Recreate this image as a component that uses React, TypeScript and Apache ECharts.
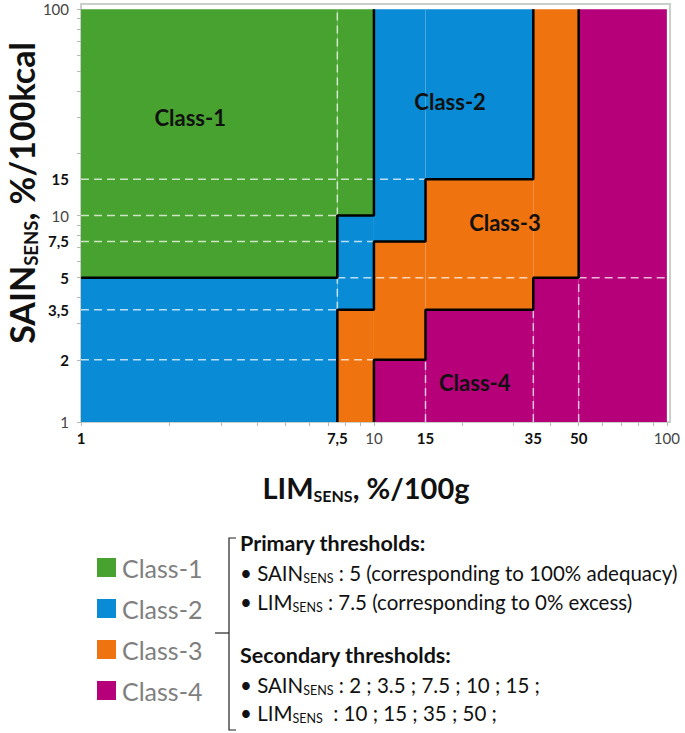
import React, { useEffect, useRef } from "react";
import * as echarts from "echarts";

// ---------- data ----------
const classNames = ["Class-1", "Class-2", "Class-3", "Class-4"];
const classColors = ["#47a22f", "#0a8bd5", "#ef730f", "#b6007a"];

// regions: [xFrom, xTo, yFrom, yTo, classIndex]  (LIM on x, SAIN on y)
const regions: number[][] = [
  [1, 7.5, 5, 100, 0],
  [7.5, 10, 10, 100, 0],
  [1, 7.5, 1, 5, 1],
  [7.5, 10, 3.5, 10, 1],
  [10, 15, 7.5, 100, 1],
  [15, 35, 15, 100, 1],
  [7.5, 10, 1, 3.5, 2],
  [10, 15, 2, 7.5, 2],
  [15, 35, 3.5, 15, 2],
  [35, 50, 5, 100, 2],
  [10, 15, 1, 2, 3],
  [15, 35, 1, 3.5, 3],
  [35, 50, 1, 5, 3],
  [50, 100, 1, 100, 3],
];

// class boundaries (stepped lines)
const boundary12 = [[1, 5], [7.5, 5], [7.5, 10], [10, 10], [10, 100]];
const boundary23 = [[7.5, 1], [7.5, 3.5], [10, 3.5], [10, 7.5], [15, 7.5], [15, 15], [35, 15], [35, 100]];
const boundary34 = [[10, 1], [10, 2], [15, 2], [15, 3.5], [35, 3.5], [35, 5], [50, 5], [50, 100]];

// secondary threshold guide segments: [x0, y0, x1, y1]
const guideSegments: number[][] = [
  [1, 15, 15, 15],
  [1, 10, 7.5, 10],
  [1, 7.5, 10, 7.5],
  [7.5, 5, 35, 5],
  [50, 5, 100, 5],
  [1, 3.5, 7.5, 3.5],
  [1, 2, 10, 2],
  [7.5, 10, 7.5, 100],
  [7.5, 3.5, 7.5, 5],
  [15, 1, 15, 2],
  [35, 1, 35, 3.5],
  [50, 1, 50, 5],
];

// class label anchor points [x, y]
const classLabelPos = [[2.36, 30], [18.2, 35.7], [28, 9.25], [22.1, 1.55]];

const xTickLabels = [1, 7.5, 10, 15, 35, 50, 100];
const xBoldLabels = [1, 7.5, 15, 35, 50];
const yTickLabels = [1, 2, 3.5, 5, 7.5, 10, 15, 100];
const yBoldLabels = [2, 3.5, 5, 7.5, 15];
const minorTicks = [1, 2, 3, 4, 5, 6, 7, 8, 9, 10, 20, 30, 40, 50, 60, 70, 80, 90, 100];

const primaryLines = [
  { name: "SAIN", rest: " : 5 (corresponding to 100% adequacy)" },
  { name: "LIM", rest: " : 7.5 (corresponding to 0% excess)" },
];
const secondaryLines = [
  { name: "SAIN", rest: " : 2 ; 3.5 ; 7.5 ; 10 ; 15 ;" },
  { name: "LIM", rest: "  : 10 ; 15 ; 35 ; 50 ;" },
];

const FONT = "Lato, 'Open Sans', sans-serif";

const fmtNum = (v: number) => String(v).replace(".", ",");

export default function App() {
  const ref = useRef<HTMLDivElement>(null);

  useEffect(() => {
    document.body.style.margin = "0";
    const chart = echarts.init(ref.current!, undefined, { renderer: "svg" });

    const tickLabelRich = {
      b: { fontFamily: FONT, fontWeight: "bold", fontSize: 15, color: "#111" },
      r: { fontFamily: FONT, fontWeight: "normal", fontSize: 15, color: "#444" },
    };

    const subRich = (main: number, sub: number, lh: number, weight: string, color: string) => ({
      m: { fontFamily: FONT, fontSize: main, fontWeight: weight, fill: color, color, lineHeight: lh },
      s: {
        fontFamily: FONT,
        fontSize: sub,
        fontWeight: weight,
        fill: color,
        color,
        lineHeight: sub,
        verticalAlign: "bottom",
      },
    });

    const legendItems: any[] = [];
    classNames.forEach((n, i) => {
      legendItems.push({
        type: "rect",
        x: 97,
        y: 558 + i * 41,
        shape: { x: 0, y: 0, width: 19, height: 19 },
        style: { fill: classColors[i] },
      });
      legendItems.push({
        type: "text",
        x: 122,
        y: 568 + i * 41,
        style: {
          text: n,
          fontFamily: FONT,
          fontSize: 25,
          fill: "#7f7f7f",
          verticalAlign: "middle",
        },
      });
    });

    const TX = 240;
    const textLines: any[] = [];
    textLines.push({
      type: "text",
      x: TX,
      y: 543,
      style: {
        text: "Primary thresholds:",
        fontFamily: FONT,
        fontWeight: "bold",
        fontSize: 21.5,
        fill: "#111",
        verticalAlign: "middle",
      },
    });
    primaryLines.forEach((l, i) => {
      textLines.push({
        type: "text",
        x: TX,
        y: 573 + i * 29,
        style: {
          text: `{m|• ${l.name}}{s|SENS}{m|${l.rest}}`,
          verticalAlign: "middle",
          rich: subRich(20.5, 12.5, 24, "normal", "#111"),
        },
      });
    });
    textLines.push({
      type: "text",
      x: TX,
      y: 655,
      style: {
        text: "Secondary thresholds:",
        fontFamily: FONT,
        fontWeight: "bold",
        fontSize: 21.5,
        fill: "#111",
        verticalAlign: "middle",
      },
    });
    secondaryLines.forEach((l, i) => {
      textLines.push({
        type: "text",
        x: TX,
        y: 685 + i * 28,
        style: {
          text: `{m|• ${l.name}}{s|SENS}{m|${l.rest}}`,
          verticalAlign: "middle",
          rich: subRich(20.5, 12.5, 24, "normal", "#111"),
        },
      });
    });

    const option: any = {
      animation: false,
      backgroundColor: "#fff",
      grid: {
        left: 81,
        right: 15,
        top: 4,
        bottom: 311,
        show: true,
        borderColor: "#c9d0c9",
        borderWidth: 2,
        backgroundColor: "transparent",
      },
      xAxis: {
        type: "log",
        logBase: 10,
        min: 1,
        max: 102.5,
        axisLine: { show: false },
        splitLine: { show: false },
        minorSplitLine: { show: false },
        axisTick: {
          show: true,
          customValues: minorTicks,
          length: 4,
          lineStyle: { color: "#b8b8b8" },
        },
        axisLabel: {
          customValues: xTickLabels,
          margin: 8,
          formatter: (v: number) =>
            xBoldLabels.includes(v) ? `{b|${fmtNum(v)}}` : `{r|${fmtNum(v)}}`,
          rich: tickLabelRich,
        },
      },
      yAxis: {
        type: "log",
        logBase: 10,
        min: 1,
        max: 106,
        axisLine: { show: false },
        splitLine: { show: false },
        minorSplitLine: { show: false },
        axisTick: {
          show: true,
          customValues: minorTicks,
          length: 4,
          lineStyle: { color: "#b8b8b8" },
        },
        axisLabel: {
          customValues: yTickLabels,
          margin: 12,
          formatter: (v: number) =>
            yBoldLabels.includes(v) ? `{b|${fmtNum(v)}}` : `{r|${fmtNum(v)}}`,
          rich: tickLabelRich,
        },
      },
      series: [
        {
          type: "custom",
          z: 1,
          data: regions,
          encode: { x: [0, 1], y: [2, 3] },
          renderItem: (params: any, api: any) => {
            const p0 = api.coord([api.value(0), api.value(3)]);
            const p1 = api.coord([api.value(1), api.value(2)]);
            return {
              type: "rect",
              shape: { x: p0[0], y: p0[1], width: p1[0] - p0[0], height: p1[1] - p0[1] },
              style: { fill: classColors[api.value(4)] },
            };
          },
        },
        {
          type: "custom",
          z: 2,
          data: guideSegments,
          encode: { x: [0, 2], y: [1, 3] },
          renderItem: (params: any, api: any) => {
            const p0 = api.coord([api.value(0), api.value(1)]);
            const p1 = api.coord([api.value(2), api.value(3)]);
            return {
              type: "line",
              shape: { x1: p0[0], y1: p0[1], x2: p1[0], y2: p1[1] },
              style: { stroke: "rgba(255,255,255,0.72)", lineWidth: 1.5, lineDash: [8, 5] },
            };
          },
        },
        ...[boundary12, boundary23, boundary34].map((b) => ({
          type: "line",
          z: 3,
          data: b,
          symbol: "none",
          silent: true,
          lineStyle: { color: "#000", width: 2.5 },
        })),
        {
          type: "custom",
          z: 4,
          data: classLabelPos.map((p, i) => [p[0], p[1], i]),
          encode: { x: 0, y: 1 },
          renderItem: (params: any, api: any) => {
            const p = api.coord([api.value(0), api.value(1)]);
            return {
              type: "text",
              x: p[0],
              y: p[1],
              style: {
                text: classNames[api.value(2)],
                fontFamily: FONT,
                fontWeight: "bold",
                fontSize: 22,
                fill: "#111",
                align: "center",
                verticalAlign: "middle",
              },
            };
          },
        },
      ],
      graphic: [
        {
          type: "text",
          x: 21,
          y: 193,
          rotation: Math.PI / 2,
          style: {
            text: "{m|SAIN}{s|SENS}{m|, %/100kcal}",
            align: "center",
            verticalAlign: "middle",
            rich: subRich(34, 18.5, 39, "bold", "#111"),
          },
        },
        {
          type: "text",
          x: 366,
          y: 487,
          style: {
            text: "{m|LIM}{s|SENS}{m|, %/100g}",
            align: "center",
            verticalAlign: "middle",
            rich: subRich(29, 16, 33, "bold", "#111"),
          },
        },
        ...legendItems,
        {
          type: "polyline",
          shape: { points: [[236, 538], [229, 538], [229, 730], [236, 730]] },
          style: { stroke: "#222", lineWidth: 1.2, fill: "none" },
        },
        {
          type: "line",
          shape: { x1: 215, y1: 633, x2: 229, y2: 633 },
          style: { stroke: "#222", lineWidth: 1.2 },
        },
        ...textLines,
      ],
    };

    chart.setOption(option);
    return () => chart.dispose();
  }, []);

  return <div ref={ref} style={{ width: 685, height: 733 }} />;
}
